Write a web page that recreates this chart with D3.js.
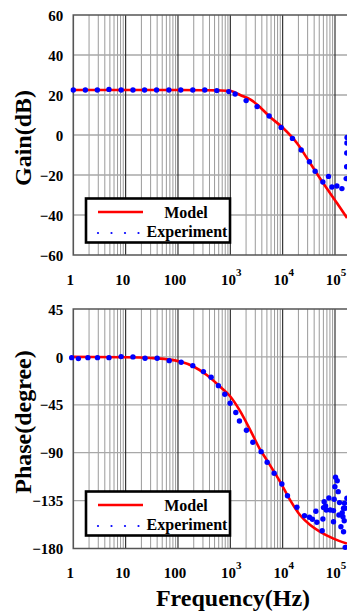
<!DOCTYPE html>
<html>
<head>
<meta charset="utf-8">
<script src="https://cdn.jsdelivr.net/npm/d3@7"></script>
<style>
  body { margin: 0; background: #fff; }
  svg { display: block; }
  text { font-family: "Liberation Serif", "Times New Roman", serif; font-weight: bold; fill: #000; }
</style>
</head>
<body>
<svg id="chart" width="347" height="612"></svg>
<script>
// frequency axis
const freqTicks = [1, 10, 100, 1e3, 1e4, 1e5];
const freqLabels = [['1'], ['10'], ['100'], ['10', '3'], ['10', '4'], ['10', '5']];

// gain panel
const gainTicks = [-60, -40, -20, 0, 20, 40, 60];
const gainModelFreq = [1, 10, 100, 300, 600, 1000, 1230, 1540, 2390, 3240, 5740, 10180, 18700, 33400, 59300, 109000, 170000];
const gainModelDb = [22.5, 22.5, 22.5, 22.4, 22.3, 22.1, 21.2, 20, 17.8, 15.3, 9, 3.5, -4, -14, -24, -34, -41.5];
const gainExpFreq = [1, 1.7, 2.88, 4.8, 8.2, 13.8, 23, 39, 67, 113, 192, 325, 552, 936, 1236, 2005, 3250, 5520, 9360, 15400, 22600,
  32500, 41800, 58600, 75100, 87300, 108700, 135500, 163700, 167000, 168000, 169000, 170000];
const gainExpDb = [22.5, 22.5, 22.5, 22.8, 22.5, 22.5, 22.5, 22.5, 22.5, 22.5, 22.5, 22.5, 22.2, 21.7, 20.5, 17.2, 14.2, 9.5, 3.8, -1.7, -7.5,
  -13.4, -18.1, -23.5, -20.7, -26, -25.5, -26.8, -21.8, -15.9, -9, -4, -1.2];

// phase panel
const phaseTicks = [-180, -135, -90, -45, 0, 45];
const phaseModelFreq = [1, 10, 30, 61, 110, 197, 355, 638, 991, 1540, 2390, 3705, 4985, 8960, 13900, 21600, 33600, 52100, 93600, 169000];
const phaseModelDeg = [0, -0.3, -1, -2.2, -4.4, -9, -17, -28, -37, -51, -68.5, -87, -97, -117.4, -134.6, -148.8, -158, -164.4, -170.7, -175.4];
const phaseExpFreq = [0.93, 1.25, 1.9, 2.9, 4.8, 8.2, 13.8, 23.5, 40, 68, 115, 192, 306, 430, 592, 785, 991, 1273, 1493, 2032, 2692,
  3877, 5057, 6880, 9660, 12360, 18700, 26100,
  32500, 37100, 43100, 45100, 56900, 58700, 60300, 62100, 76400, 67900, 80900, 93600, 93600, 96500, 102300, 110200, 99500,
  115100, 121900, 118800, 137400, 145500, 129700, 145500, 156700, 169000, 152000, 141600, 150000, 66000, 156700];
const phaseExpDeg = [-0.7, -1.6, -0.7, -0.7, -0.7, 0.3, 0, -1.2, -1.2, -3.5, -5, -8.2, -13.8, -19.1, -27, -35.1, -43.5, -52.3, -60.2, -68.9, -80.2,
  -89, -99, -109.3, -119.4, -130.4, -141.3, -149.2,
  -150.7, -152.5, -145, -155.4, -163.3, -152.3, -141.6, -136, -132.5, -143.8, -143.8, -144.4, -154.8, -133.7, -113.1, -116.3, -121.9,
  -126.6, -136.9, -148.5, -146.3, -142.2, -159.5, -164.2, -178.9, -132.8, -137.5, -150.1, -153.9, -140, -142.2];

const svg = d3.select('#chart');
const plotLeft = 73.3, plotRight = 347;
const x = d3.scaleLog().domain([1, 1e5]).range([plotLeft, 335]);

svg.append('defs').append('clipPath').attr('id', 'clip')
  .append('rect').attr('x', 0).attr('y', 0).attr('width', plotRight).attr('height', 612);

function drawPanel(cfg) {
  const y = d3.scaleLinear().domain(cfg.domain).range([cfg.bottom, cfg.top]);
  const g = svg.append('g');

  // vertical grid: minor then decades
  const minor = [];
  for (let d = 0; d <= 5; d++) {
    for (let k = 2; k <= 9; k++) {
      const f = k * Math.pow(10, d);
      if (x(f) < plotRight) minor.push(f);
    }
  }
  g.selectAll('.minor').data(minor).enter().append('line')
    .attr('x1', d => x(d)).attr('x2', d => x(d))
    .attr('y1', cfg.top).attr('y2', cfg.bottom)
    .attr('stroke', '#9a9a9a').attr('stroke-width', 1);

  // horizontal grid
  g.selectAll('.hgrid').data(cfg.ticks.slice(1, -1)).enter().append('line')
    .attr('x1', plotLeft).attr('x2', plotRight)
    .attr('y1', d => y(d)).attr('y2', d => y(d))
    .attr('stroke', '#a8a8a8').attr('stroke-width', 1.3);

  g.selectAll('.major').data(freqTicks.slice(1)).enter().append('line')
    .attr('x1', d => x(d)).attr('x2', d => x(d))
    .attr('y1', cfg.top).attr('y2', cfg.bottom)
    .attr('stroke', '#222').attr('stroke-width', 1.1);

  // frame (right side is cut off in the original)
  g.append('path')
    .attr('d', `M${plotRight},${cfg.top}H${plotLeft}V${cfg.bottom}H${plotRight}`)
    .attr('fill', 'none').attr('stroke', '#555').attr('stroke-width', 1.6);

  // y axis labels
  const yAxis = d3.axisLeft(y).tickValues(cfg.ticks).tickSize(0).tickPadding(10);
  const ya = g.append('g').attr('transform', `translate(${plotLeft},0)`).call(yAxis);
  ya.select('.domain').remove();
  ya.selectAll('text').attr('font-size', 15).attr('font-family', null).attr('dy', '0.34em');

  // x tick labels
  const xl = g.selectAll('.xlab').data(freqTicks).enter().append('text')
    .attr('x', (d, i) => x(d) + (freqLabels[i].length > 1 ? 1 : -3))
    .attr('y', cfg.labelY)
    .attr('text-anchor', 'middle')
    .attr('font-size', 15);
  xl.append('tspan').text((d, i) => freqLabels[i][0]);
  xl.filter((d, i) => freqLabels[i].length > 1).append('tspan')
    .attr('font-size', 11).attr('dy', -9)
    .text((d, i) => freqLabels[freqTicks.indexOf(d)][1]);

  // axis title
  svg.append('text')
    .attr('transform', `translate(31,${cfg.titleY}) rotate(-90)`)
    .attr('text-anchor', 'middle').attr('font-size', 24)
    .text(cfg.title);

  // series
  const plot = g.append('g').attr('clip-path', 'url(#clip)');
  const model = cfg.modelF.map((f, i) => [f, cfg.modelV[i]]);
  plot.append('path')
    .datum(model)
    .attr('d', d3.line().x(d => x(d[0])).y(d => y(d[1])).curve(d3.curveMonotoneX))
    .attr('fill', 'none').attr('stroke', '#ff0000').attr('stroke-width', 2.6);

  const exp = cfg.expF.map((f, i) => [f, cfg.expV[i]]);
  plot.selectAll('.pt').data(exp).enter().append('circle')
    .attr('cx', d => x(d[0])).attr('cy', d => y(d[1])).attr('r', 2.7)
    .attr('fill', '#0000ff');

  // legend
  const lg = svg.append('g').attr('transform', `translate(0,${cfg.legendTop})`);
  lg.append('rect').attr('x', 86).attr('y', 0).attr('width', 144).attr('height', 44)
    .attr('fill', '#fff').attr('stroke', '#000').attr('stroke-width', 2.6);
  lg.append('line').attr('x1', 98).attr('x2', 143).attr('y1', 13.5).attr('y2', 13.5)
    .attr('stroke', '#ff0000').attr('stroke-width', 2.4);
  lg.append('text').attr('x', 186).attr('y', 19).attr('text-anchor', 'middle')
    .attr('font-size', 16).text('Model');
  lg.selectAll('.ld').data([98, 111.5, 125, 138.5]).enter().append('circle')
    .attr('cx', d => d).attr('cy', 34.5).attr('r', 1.1).attr('fill', '#0000ff');
  lg.append('text').attr('x', 187).attr('y', 38.5).attr('text-anchor', 'middle')
    .attr('font-size', 16).text('Experiment');
}

drawPanel({
  domain: [-60, 60], top: 15, bottom: 255, ticks: gainTicks,
  labelY: 285, title: 'Gain(dB)', titleY: 138, legendTop: 198.5,
  modelF: gainModelFreq, modelV: gainModelDb, expF: gainExpFreq, expV: gainExpDb
});

drawPanel({
  domain: [-180, 45], top: 309, bottom: 548.5, ticks: phaseTicks,
  labelY: 578, title: 'Phase(degree)', titleY: 422, legendTop: 491.5,
  modelF: phaseModelFreq, modelV: phaseModelDeg, expF: phaseExpFreq, expV: phaseExpDeg
});

svg.append('text')
  .attr('x', 233).attr('y', 606).attr('text-anchor', 'middle')
  .attr('font-size', 24).text('Frequency(Hz)');
</script>
</body>
</html>
